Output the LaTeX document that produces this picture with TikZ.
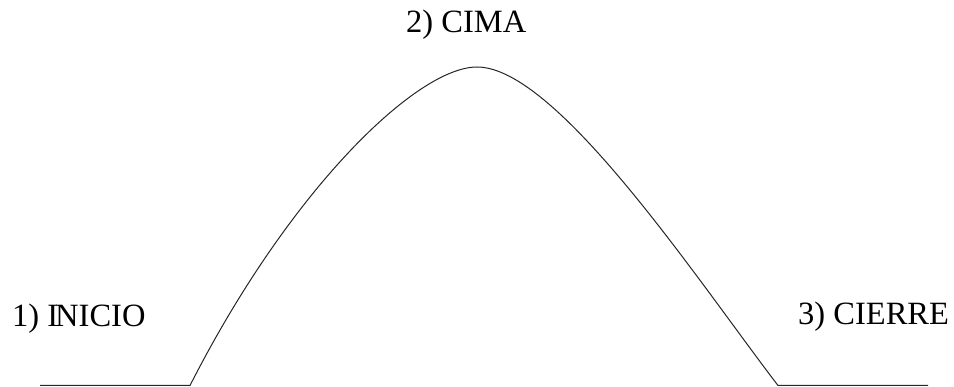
\documentclass[tikz,border=0pt]{standalone}
\usepackage{fontspec}
\setmainfont{Liberation Serif}
\begin{document}
\begin{tikzpicture}[x=1pt,y=-1pt,
  lbl/.style={anchor=base west,inner sep=0pt,font=\fontsize{32.5}{32.5}\selectfont},
  curveline/.style={line width=1pt,draw=black!85}]
\useasboundingbox (0,0) rectangle (954,387);
\coordinate (s1) at (40,385.5);
\coordinate (a) at (190,385.5);
\coordinate (p) at (477,67);
\coordinate (b) at (778,385.5);
\coordinate (e2) at (928,385.5);
\node[lbl] (inicio) at (12,327) {1) I\kern-3pt NICIO};
\node[lbl] (cima) at (406,33) {2) CIMA};
\node[lbl] (cierre) at (798,325) {3) CIERRE};
\draw[curveline] (s1) -- (a) .. controls (290,189) and (417,67) .. (p)
  .. controls (557,67) and (698,281) .. (b) -- (e2);
\end{tikzpicture}
\end{document}
